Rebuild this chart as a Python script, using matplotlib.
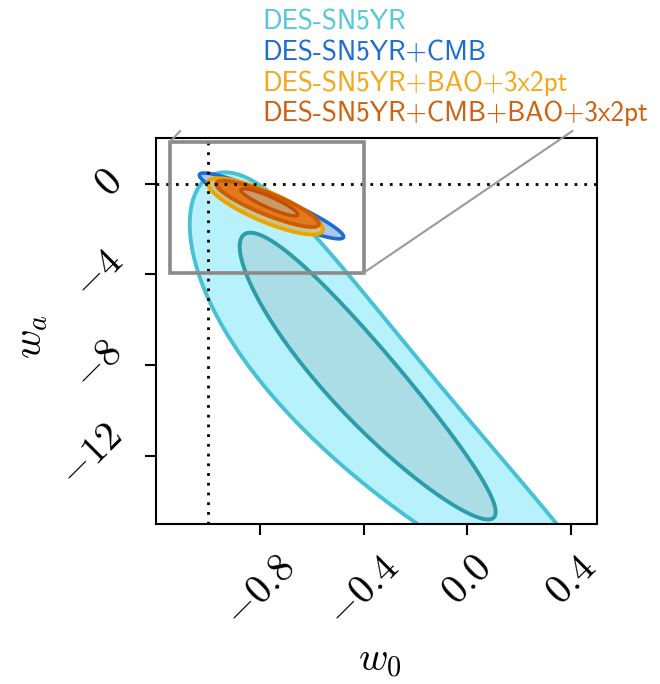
import numpy as np
import matplotlib
matplotlib.use("Agg")
import matplotlib.pyplot as plt
from matplotlib.patches import Rectangle

plt.rcParams['mathtext.fontset'] = 'cm'

# ---------------- data ----------------
labels = ["DES-SN5YR", "DES-SN5YR+CMB", "DES-SN5YR+BAO+3x2pt", "DES-SN5YR+CMB+BAO+3x2pt"]
label_colors = ["#55c6db", "#1c6dcf", "#f3a81c", "#d0600f"]

# contour ellipse parameters:
# [w0 centre, wa centre, w0 half-extent, wa half-extent, correlation, bend]
sn5yr_2sig = [-0.43, -9.1, 0.78, 9.6, -0.900, 0.00215]
sn5yr_1sig = [-0.42, -8.48, 0.4925, 6.32, -0.930, 0.00104]
cmb_2sig = [-0.755, -0.98, 0.278, 1.45, -0.935, 0.0]
cmb_1sig = [-0.757, -0.98, 0.17, 0.89, -0.937, 0.0]
bao_2sig = [-0.779, -1.0, 0.222, 1.24, -0.82, 0.0]
bao_1sig = [-0.776, -0.95, 0.14, 0.78, -0.84, 0.0]
all_2sig = [-0.77, -0.89, 0.198, 1.02, -0.866, 0.0]
all_1sig = [-0.763, -0.82, 0.11, 0.6, -0.90, 0.0]

xticks = [-0.8, -0.4, 0.0, 0.4]
xticklabels = ["$-0.8$", "$-0.4$", "$0.0$", "$0.4$"]
yticks = [0, -4, -8, -12]
yticklabels = ["$0$", "$-4$", "$-8$", "$-12$"]
xlim = [-1.2, 0.5]
ylim = [-15, 2]
w0_ref = -1.0
wa_ref = 0.0

zoom_box_w0 = [-1.146, -0.40]
zoom_box_wa = [-3.93, 1.85]
connector_top_wa = 2.32
connector_w0 = [-1.107, 0.405]

# ---------------- plot ----------------
fig = plt.figure(figsize=(6.6, 6.84), dpi=100)
ax = fig.add_axes([0.2364, 0.2339, 0.6682, 0.5639])

gx = np.linspace(xlim[0], xlim[1], 800)
gy = np.linspace(ylim[0], ylim[1], 800)
X, Y = np.meshgrid(gx, gy)


def region(p):
    cx, cy, hx, hy, rho, bend = p
    dy = Y - cy
    dx = X - cx - bend * dy ** 2
    u = dx / hx
    v = dy / hy
    return (u * u - 2 * rho * u * v + v * v) / (1 - rho * rho)


def draw(p, fill, edge, lw, z):
    F = region(p)
    ax.contourf(X, Y, F, levels=[-1, 1], colors=[fill], zorder=z)
    ax.contour(X, Y, F, levels=[1], colors=[edge], linewidths=lw, zorder=z + 0.1)


draw(sn5yr_2sig, "#b7f1fb", "#46c1d5", 2.8, 1)
draw(sn5yr_1sig, "#aadde6", "#2c9dab", 2.8, 1.2)
draw(cmb_2sig, "#a9c6ee", "#1c6dcf", 2.6, 2)
draw(cmb_1sig, "#86abe6", "#1c6dcf", 2.0, 2.2)
draw(bao_2sig, "#c4c890", "#eda400", 2.8, 3)
draw(bao_1sig, "#d9b36a", "#e69a00", 2.0, 3.2)
draw(all_2sig, "#e07a1c", "#d05a00", 2.8, 4)
draw(all_1sig, "#c99a66", "#c25000", 2.4, 4.2)

ax.axvline(w0_ref, color="black", lw=2.0, ls=(0, (1, 2.5)), zorder=6)
ax.axhline(wa_ref, color="black", lw=2.0, ls=(0, (1, 2.5)), zorder=6)

ax.add_patch(Rectangle((zoom_box_w0[0], zoom_box_wa[0]),
                       zoom_box_w0[1] - zoom_box_w0[0],
                       zoom_box_wa[1] - zoom_box_wa[0],
                       fill=False, edgecolor="#8a8a8a", lw=2.6, zorder=7))
ax.plot([zoom_box_w0[0], connector_w0[0]], [zoom_box_wa[1], connector_top_wa],
        color="#9a9a9a", lw=1.5, clip_on=False, zorder=7)
ax.plot([zoom_box_w0[1], connector_w0[1]], [zoom_box_wa[0], connector_top_wa],
        color="#9a9a9a", lw=1.5, clip_on=False, zorder=7)

ax.set_xlim(xlim)
ax.set_ylim(ylim)
ax.set_xticks(xticks)
ax.set_xticklabels(xticklabels, rotation=45, fontsize=29)
ax.set_yticks(yticks)
ax.set_yticklabels(yticklabels, rotation=45, fontsize=29, va="center")
ax.tick_params(axis="both", direction="out", length=8, width=1.5)
ax.tick_params(axis="x", pad=9)
ax.tick_params(axis="y", pad=10)
for sp in ax.spines.values():
    sp.set_linewidth(1.5)

fig.text(380 / 660, 1 - 660 / 684, "$w_0$", fontsize=29, ha="center", va="center")
fig.text(30 / 660, 1 - 337 / 684, "$w_a$", fontsize=29, ha="center", va="center", rotation=90)

ys = [22, 52, 83, 113]
for lab, col, yy in zip(labels, label_colors, ys):
    fig.text(262 / 660, 1 - yy / 684, lab, color=col, fontsize=19.6,
             family=["cmss10", "DejaVu Sans"], ha="left", va="center")

fig.savefig("out.png", dpi=100)
